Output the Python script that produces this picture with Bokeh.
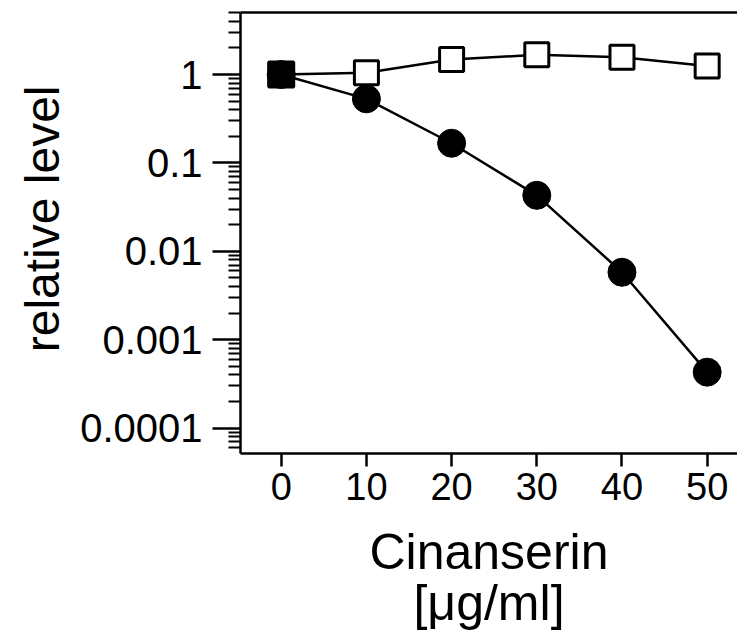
from bokeh.plotting import figure
from bokeh.models import Range1d, FixedTicker, LinearAxis, Title
from bokeh.embed import file_html
from bokeh.resources import INLINE

conc = [0, 10, 20, 30, 40, 50]
open_series = [1.0, 1.045, 1.48, 1.67, 1.57, 1.25]
filled_series = [1.0, 0.531, 0.167, 0.043, 0.0058, 0.00043]
x_ticks = [0, 10, 20, 30, 40, 50]
y_ticks = [0.0001, 0.001, 0.01, 0.1, 1]
y_tick_labels = ["0.0001", "0.001", "0.01", "0.1", "1"]

FONT = "Liberation Sans"

p = figure(width=737, height=634, y_axis_type="log",
           x_range=Range1d(-4.78, 53.56), y_range=Range1d(5.17e-5, 5.03),
           output_backend="svg", toolbar_location=None,
           min_border_left=240, min_border_top=12, min_border_right=0, min_border_bottom=181)
p.outline_line_color = None
p.grid.visible = False
p.background_fill_color = "white"
p.border_fill_color = "white"

minor = []
for d in [1e-5, 1e-4, 1e-3, 1e-2, 1e-1, 1]:
    for m in range(2, 10):
        minor.append(d * m)

ya = p.yaxis[0]
ya.ticker = FixedTicker(ticks=y_ticks, minor_ticks=minor)
ya.major_label_overrides = {t: l for t, l in zip(y_ticks, y_tick_labels)}
ya.major_label_text_font = FONT
ya.major_label_text_font_size = "40px"
ya.major_label_text_color = "black"
ya.major_tick_out = 28
ya.major_tick_in = 0
ya.minor_tick_out = 12
ya.minor_tick_in = 0
ya.major_tick_line_width = 2.5
ya.minor_tick_line_width = 2
ya.axis_line_width = 2.5
ya.major_tick_line_color = "black"
ya.minor_tick_line_color = "black"
ya.axis_line_color = "black"
ya.major_label_standoff = 10

ytitle = Title(text="relative level", align="right", offset=73,
               text_font=FONT, text_font_size="48px", text_font_style="normal",
               text_color="black", standoff=17)
p.add_layout(ytitle, "left")

xa = p.xaxis[0]
xa.ticker = FixedTicker(ticks=x_ticks, minor_ticks=[])
xa.major_label_text_font = FONT
xa.major_label_text_font_size = "38px"
xa.major_label_text_color = "black"
xa.major_tick_out = 13
xa.major_tick_in = 0
xa.minor_tick_out = 0
xa.minor_tick_in = 0
xa.major_tick_line_width = 2.5
xa.axis_line_width = 2.5
xa.major_tick_line_color = "black"
xa.axis_line_color = "black"
xa.major_label_standoff = 6
xa.axis_label = "Cinanserin\n[\u03bcg/ml]"
xa.axis_label_text_font = FONT
xa.axis_label_text_font_size = "50px"
xa.axis_label_text_font_style = "normal"
xa.axis_label_text_color = "black"
xa.axis_label_text_line_height = 0.92
xa.axis_label_standoff = 21

top = LinearAxis(ticker=FixedTicker(ticks=[], minor_ticks=[]),
                 major_label_text_font_size="0px", major_tick_out=0, major_tick_in=0,
                 minor_tick_out=0, minor_tick_in=0, axis_line_width=2.5,
                 axis_line_color="black")
p.add_layout(top, "above")

p.line(conc, open_series, line_color="black", line_width=2.5)
p.scatter(conc, open_series, marker="square", size=24, fill_color="white",
          line_color="black", line_width=3)
p.line(conc, filled_series, line_color="black", line_width=2.5)
p.scatter(conc, filled_series, marker="circle", size=28, fill_color="black",
          line_color="black", line_width=1)
p.scatter(conc[:1], filled_series[:1], marker="square", size=25, fill_color="black",
          line_color="black", line_width=3)

open("out.html", "w").write(file_html(p, INLINE))
